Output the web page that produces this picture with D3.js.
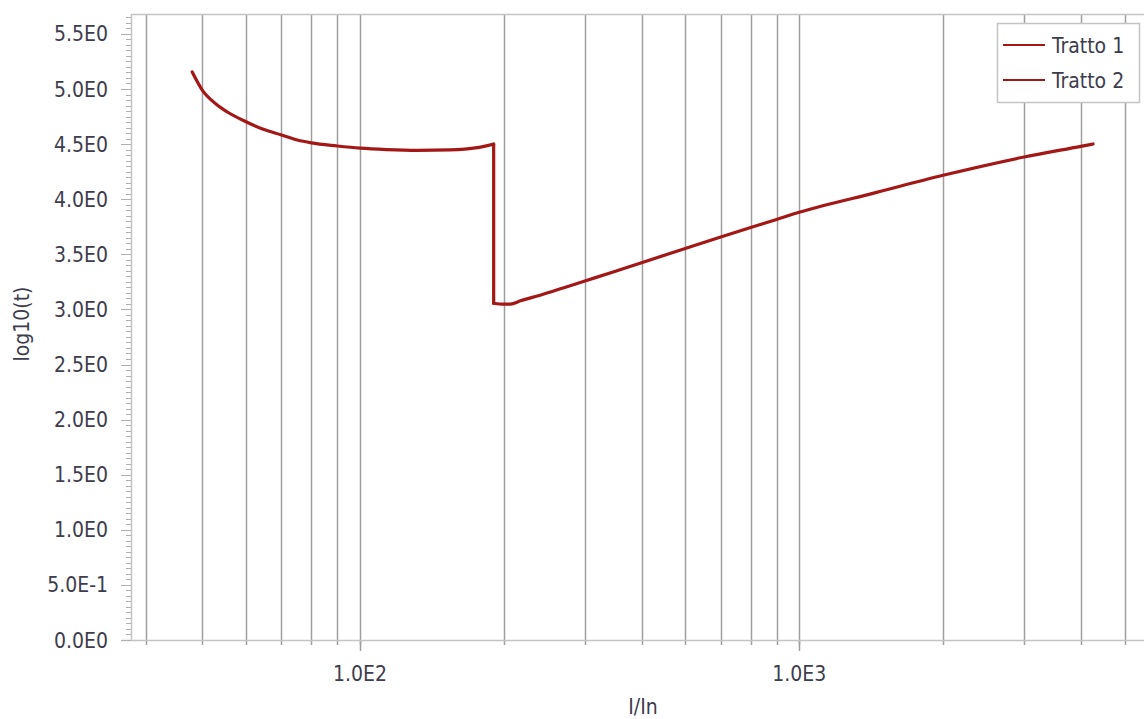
<!DOCTYPE html>
<html>
<head>
<meta charset="utf-8">
<script src="https://cdn.jsdelivr.net/npm/d3@7"></script>
<style>
  body { margin: 0; background: #fff; }
  text { font-family: "DejaVu Sans Condensed", "DejaVu Sans", sans-serif; font-stretch: condensed; fill: #3d3d4d; }
</style>
</head>
<body>
<script>
// Tratto 1 : I/In and log10(t)  (last two points = the vertical drop)
var t1_I = [41.5, 43.75, 47, 50, 55, 60, 66.25, 72, 77.5, 88.75, 100, 115, 135, 160, 185, 201.5, 201.5];
var t1_t = [5.154, 4.99, 4.864, 4.789, 4.703, 4.637, 4.583, 4.537, 4.511, 4.483, 4.463, 4.45, 4.443, 4.447, 4.468, 4.50, 3.056];

// Tratto 2
var t2_I = [201.5, 212.5, 220, 232, 257, 290, 325, 380, 437.5, 550, 662.5, 775, 887.5, 1000, 1500, 2125, 3250, 4375, 4663];
var t2_t = [3.056, 3.047, 3.048, 3.078, 3.129, 3.195, 3.258, 3.344, 3.424, 3.553, 3.657, 3.743, 3.816, 3.881, 4.062, 4.217, 4.383, 4.48, 4.501];

var series_names = ["Tratto 1", "Tratto 2"];
var y_ticks = [0, 0.5, 1.0, 1.5, 2.0, 2.5, 3.0, 3.5, 4.0, 4.5, 5.0, 5.5];
var x_decades = [10, 100, 1000];

var W = 1144, H = 719;
var m = {left: 131, top: 14, bottom: 640, right: 1150};
var red = "#a31717";
var fs = "21px";

var svg = d3.select("body").append("svg")
    .attr("width", W)
    .attr("height", H);

// scales (log x, 439.3px per decade)
var x = d3.scaleLog()
    .domain([30, 6200])
    .range([130.3, 130.3 + 439.3 * Math.log10(6200 / 30)]);
var y = d3.scaleLinear()
    .domain([0, (m.bottom - m.top) / 110.2])
    .range([m.bottom, m.top]);

// grid values: decade + 7 evenly spaced minors
var grid_vals = [];
x_decades.forEach(function(d){
    for (var k = 1; k <= 7; k++) grid_vals.push(d + k * 9 * d / 8);
    grid_vals.push(d * 10);
});
grid_vals = grid_vals.filter(function(v){ return v > 30 && v < 6200; });

// vertical gridlines
svg.append("g").selectAll("line")
    .data(grid_vals).enter()
    .append("line")
    .attr("x1", function(d){ return Math.round(x(d)) + 0.5; })
    .attr("x2", function(d){ return Math.round(x(d)) + 0.5; })
    .attr("y1", m.top)
    .attr("y2", m.bottom + 5)
    .style("stroke", "#9e9e9e")
    .style("stroke-width", 1.5);

// major x ticks longer
svg.append("g").selectAll("line")
    .data([100, 1000]).enter()
    .append("line")
    .attr("x1", function(d){ return Math.round(x(d)) + 0.5; })
    .attr("x2", function(d){ return Math.round(x(d)) + 0.5; })
    .attr("y1", m.bottom)
    .attr("y2", m.bottom + 11)
    .style("stroke", "#9e9e9e")
    .style("stroke-width", 1.5);

// plot border (left, top, bottom)
svg.append("line").attr("x1", m.left).attr("x2", m.right).attr("y1", m.top + 0.5).attr("y2", m.top + 0.5)
    .style("stroke", "#c4c4c4").style("stroke-width", 1.5);
svg.append("line").attr("x1", 121).attr("x2", m.right).attr("y1", m.bottom + 0.5).attr("y2", m.bottom + 0.5)
    .style("stroke", "#c4c4c4").style("stroke-width", 1.5);
svg.append("line").attr("x1", m.left + 0.5).attr("x2", m.left + 0.5).attr("y1", m.top).attr("y2", m.bottom)
    .style("stroke", "#c4c4c4").style("stroke-width", 1.5);

// y axis ticks and labels
var y_minor = d3.range(0, y.domain()[1], 0.05);
svg.append("g").selectAll("line")
    .data(y_minor).enter()
    .append("line")
    .attr("x1", function(d, i){ return i % 10 === 0 ? m.left - 10 : m.left - 5; })
    .attr("x2", m.left)
    .attr("y1", function(d){ return Math.round(y(d)) + 0.5; })
    .attr("y2", function(d){ return Math.round(y(d)) + 0.5; })
    .style("stroke", "#b0b0b0")
    .style("stroke-width", 1);

function sci(v){
    if (v === 0) return "0.0E0";
    var e = Math.floor(Math.log10(v) + 1e-9);
    return (v / Math.pow(10, e)).toFixed(1) + "E" + e;
}

svg.append("g").selectAll("text")
    .data(y_ticks).enter()
    .append("text")
    .attr("x", 108)
    .attr("y", function(d){ return y(d); })
    .attr("dy", "0.36em")
    .attr("text-anchor", "end")
    .style("font-size", fs)
    .text(sci);

// x labels
svg.append("g").selectAll("text")
    .data([100, 1000]).enter()
    .append("text")
    .attr("x", function(d){ return x(d); })
    .attr("y", 681)
    .attr("text-anchor", "middle")
    .style("font-size", fs)
    .text(sci);

// axis titles
svg.append("text")
    .attr("x", 643).attr("y", 714)
    .attr("text-anchor", "middle")
    .style("font-size", fs)
    .text("I/In");
svg.append("text")
    .attr("transform", "translate(29,324) rotate(-90)")
    .attr("text-anchor", "middle")
    .style("font-size", fs)
    .text("log10(t)");

// curves
var smooth = d3.line()
    .x(function(d){ return x(d[0]); })
    .y(function(d){ return y(d[1]); })
    .curve(d3.curveMonotoneX);
var straight = d3.line()
    .x(function(d){ return x(d[0]); })
    .y(function(d){ return y(d[1]); });

var s1 = d3.zip(t1_I, t1_t);
var s2 = d3.zip(t2_I, t2_t);

function drawPath(d){
    svg.append("path")
        .attr("d", d)
        .style("fill", "none")
        .style("stroke", red)
        .style("stroke-width", 3.2)
        .style("stroke-linejoin", "round")
        .style("stroke-linecap", "round");
}
drawPath(smooth(s1.slice(0, -1)));
drawPath(straight(s1.slice(-2)));
drawPath(smooth(s2));

// legend
var lg = svg.append("g");
lg.append("rect")
    .attr("x", 997.5).attr("y", 23.5)
    .attr("width", 142).attr("height", 79)
    .style("fill", "#fff")
    .style("stroke", "#c4c4c4")
    .style("stroke-width", 1.5);
series_names.forEach(function(n, i){
    var yy = 45 + i * 35;
    lg.append("line")
        .attr("x1", 1003).attr("x2", 1045)
        .attr("y1", yy).attr("y2", yy)
        .style("stroke", red)
        .style("stroke-width", 2);
    lg.append("text")
        .attr("x", 1052).attr("y", yy)
        .attr("dy", "0.36em")
        .style("font-size", fs)
        .text(n);
});
</script>
</body>
</html>
